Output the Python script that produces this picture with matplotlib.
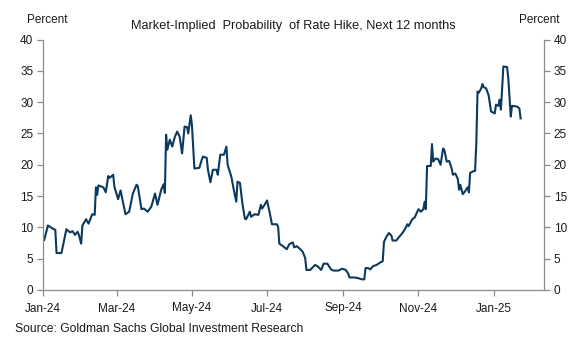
import matplotlib
matplotlib.use("Agg")
import matplotlib.pyplot as plt
import matplotlib.dates as mdates
import numpy as np
import pandas as pd

# Market-implied probability of a rate hike over the next 12 months (percent)
dates = [
    "2024-01-02", "2024-01-05", "2024-01-09", "2024-01-11", "2024-01-12", "2024-01-16",
    "2024-01-20", "2024-01-23", "2024-01-25", "2024-01-27", "2024-01-29", "2024-01-30",
    "2024-02-01", "2024-02-02", "2024-02-05", "2024-02-07", "2024-02-10", "2024-02-12",
    "2024-02-13", "2024-02-14", "2024-02-15", "2024-02-19", "2024-02-21", "2024-02-23",
    "2024-02-24", "2024-02-27", "2024-02-28", "2024-03-02", "2024-03-04", "2024-03-06",
    "2024-03-08", "2024-03-11", "2024-03-14", "2024-03-17", "2024-03-18", "2024-03-21",
    "2024-03-23", "2024-03-26", "2024-03-29", "2024-04-01", "2024-04-03", "2024-04-06",
    "2024-04-08", "2024-04-09", "2024-04-10", "2024-04-11", "2024-04-13", "2024-04-15",
    "2024-04-17", "2024-04-19", "2024-04-21", "2024-04-23", "2024-04-25", "2024-04-27",
    "2024-04-28", "2024-04-30", "2024-05-01", "2024-05-03", "2024-05-07", "2024-05-09",
    "2024-05-10", "2024-05-13", "2024-05-14", "2024-05-16", "2024-05-18", "2024-05-21",
    "2024-05-22", "2024-05-24", "2024-05-27", "2024-05-29", "2024-05-30", "2024-06-02",
    "2024-06-04", "2024-06-06", "2024-06-07", "2024-06-09", "2024-06-11", "2024-06-13",
    "2024-06-14", "2024-06-17", "2024-06-18", "2024-06-21", "2024-06-24", "2024-06-26",
    "2024-06-27", "2024-06-29", "2024-07-01", "2024-07-03", "2024-07-05", "2024-07-09",
    "2024-07-10", "2024-07-11", "2024-07-14", "2024-07-17", "2024-07-19", "2024-07-22",
    "2024-07-23", "2024-07-25", "2024-07-27", "2024-07-30", "2024-08-01", "2024-08-02",
    "2024-08-05", "2024-08-09", "2024-08-11", "2024-08-14", "2024-08-16", "2024-08-19",
    "2024-08-22", "2024-08-24", "2024-08-28", "2024-08-31", "2024-09-03", "2024-09-05",
    "2024-09-06", "2024-09-10", "2024-09-13", "2024-09-16", "2024-09-18", "2024-09-19",
    "2024-09-21", "2024-09-23", "2024-09-25", "2024-09-28", "2024-10-01", "2024-10-03",
    "2024-10-04", "2024-10-06", "2024-10-08", "2024-10-10", "2024-10-11", "2024-10-14",
    "2024-10-16", "2024-10-19", "2024-10-21", "2024-10-23", "2024-10-24", "2024-10-27",
    "2024-10-29", "2024-11-01", "2024-11-03", "2024-11-05", "2024-11-06", "2024-11-07",
    "2024-11-08", "2024-11-11", "2024-11-12", "2024-11-13", "2024-11-15", "2024-11-17",
    "2024-11-19", "2024-11-21", "2024-11-22", "2024-11-24", "2024-11-26", "2024-11-28",
    "2024-11-29", "2024-12-01", "2024-12-03", "2024-12-04", "2024-12-05", "2024-12-07",
    "2024-12-09", "2024-12-11", "2024-12-12", "2024-12-13", "2024-12-16", "2024-12-17",
    "2024-12-18", "2024-12-19", "2024-12-20", "2024-12-22", "2024-12-23", "2024-12-24",
    "2024-12-26", "2024-12-28", "2024-12-30", "2025-01-02", "2025-01-03", "2025-01-05",
    "2025-01-06", "2025-01-07", "2025-01-09", "2025-01-12", "2025-01-13", "2025-01-15",
    "2025-01-16", "2025-01-20", "2025-01-22", "2025-01-23",
]
prob = [
    8.0, 10.3, 9.8, 9.6, 5.9, 5.9,
    9.7, 9.2, 9.4, 8.8, 9.3, 8.9,
    7.4, 10.3, 11.3, 10.6, 12.1, 12.0,
    16.4, 15.2, 16.7, 16.4, 15.6, 18.2,
    17.9, 18.4, 16.5, 14.5, 15.9, 14.0,
    12.1, 12.5, 15.4, 16.8, 16.6, 12.9,
    13.0, 12.5, 13.3, 15.4, 13.6, 16.0,
    16.9, 15.5, 24.8, 22.4, 24.0, 22.9,
    24.4, 25.3, 24.5, 21.8, 26.1, 26.0,
    25.0, 27.9, 26.3, 19.4, 19.5, 20.8,
    21.3, 21.1, 19.2, 17.2, 19.2, 19.2,
    18.4, 21.6, 21.6, 22.9, 20.0, 18.1,
    16.0, 14.1, 17.3, 17.1, 13.8, 11.4,
    11.3, 12.5, 11.7, 12.1, 12.0, 13.6,
    13.0, 13.6, 14.3, 12.5, 10.5, 10.5,
    10.1, 7.4, 7.0, 6.5, 7.3, 7.6,
    6.8, 7.0, 6.7, 6.1, 5.1, 3.2,
    3.2, 4.0, 3.8, 3.2, 4.2, 4.2,
    3.3, 3.1, 3.1, 3.4, 3.2, 2.6,
    2.0, 2.0, 1.9, 1.7, 1.7, 3.5,
    3.5, 3.3, 3.8, 4.0, 4.4, 4.6,
    7.7, 8.5, 9.1, 8.7, 7.9, 7.9,
    8.4, 9.1, 9.7, 10.5, 10.2, 11.3,
    11.6, 12.9, 12.5, 12.9, 14.1, 12.9,
    19.8, 19.8, 23.3, 20.5, 21.0, 20.9,
    20.0, 22.6, 22.4, 20.5, 20.6, 19.4,
    18.4, 18.6, 17.7, 16.0, 16.8, 15.3,
    15.8, 16.4, 15.6, 18.7, 19.0, 19.0,
    23.4, 31.7, 31.5, 32.2, 32.9, 32.4,
    32.2, 31.1, 28.5, 28.2, 29.6, 29.4,
    30.4, 28.8, 35.7, 35.6, 33.8, 27.7,
    29.4, 29.3, 29.0, 27.4,
]
tick_dates = ["2024-01-01", "2024-03-01", "2024-05-01", "2024-07-01",
              "2024-09-01", "2024-11-01", "2025-01-01"]
y_ticks = [0, 5, 10, 15, 20, 25, 30, 35, 40]

title = "Market-Implied  Probability  of Rate Hike, Next 12 months"
source = "Source: Goldman Sachs Global Investment Research"

plt.rcParams["font.family"] = ["Liberation Sans", "DejaVu Sans"]
axis_grey = "#8c8c8c"
text_col = "#1a1a1a"
line_col = "#0c3a5e"

fig = plt.figure(figsize=(5.78, 3.43), dpi=100)
ax = fig.add_axes([43 / 578, 53 / 343, 501 / 578, 250.5 / 343])

ax.plot(pd.to_datetime(dates), prob, color=line_col, lw=1.5)

ax.set_xlim(pd.Timestamp("2024-01-01"), pd.Timestamp("2025-02-11"))
ax.set_ylim(0, 40)
ax.set_yticks(y_ticks)
ax.set_xticks(pd.to_datetime(tick_dates))
ax.xaxis.set_major_formatter(mdates.DateFormatter("%b-%y"))

ax.spines["top"].set_visible(False)
for s in ("left", "right", "bottom"):
    ax.spines[s].set_color(axis_grey)
    ax.spines[s].set_linewidth(0.9)

ax.tick_params(axis="both", colors=axis_grey, length=4, width=0.9,
               labelcolor=text_col, labelsize=8.5)
ax.tick_params(axis="y", pad=3, labelright=True, right=True)
ax.tick_params(axis="x", pad=5)

fig.text(47 / 578, 1 - 20 / 343, "Percent", ha="center", va="center",
         fontsize=8.5, color=text_col)
fig.text(539 / 578, 1 - 20 / 343, "Percent", ha="center", va="center",
         fontsize=8.5, color=text_col)
fig.text(293 / 578, 1 - 26 / 343, title, ha="center", va="center",
         fontsize=9.2, color=text_col)
fig.text(15 / 578, 1 - 329 / 343, source, ha="left", va="center",
         fontsize=8.7, color=text_col,
         family=["Liberation Sans Narrow", "Liberation Sans", "DejaVu Sans"])

fig.savefig("out.png", dpi=100)
